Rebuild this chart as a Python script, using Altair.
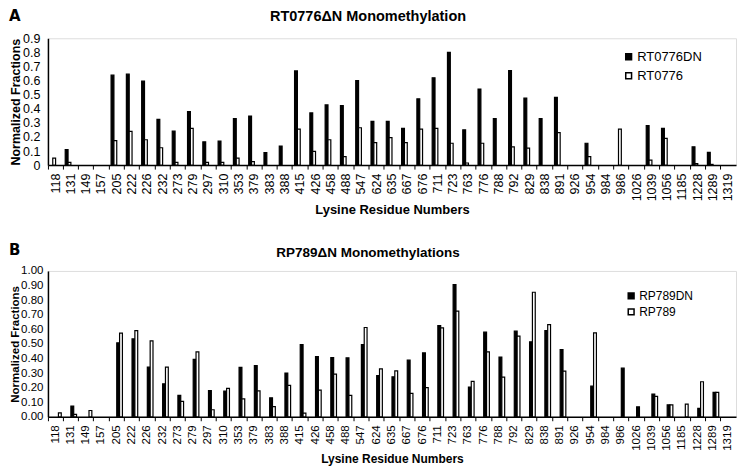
import altair as alt
import pandas as pd

residues = ["118", "131", "149", "157", "205", "222", "226", "232", "273", "279",
            "297", "310", "353", "379", "383", "388", "415", "426", "458", "488",
            "547", "624", "635", "667", "676", "711", "723", "763", "776", "788",
            "792", "829", "838", "891", "926", "954", "984", "986", "1026", "1039",
            "1056", "1185", "1228", "1289", "1319"]

a_series = ["RT0776DN", "RT0776"]
a_dn = [0, 0.11, 0, 0, 0.638, 0.645, 0.596, 0.325, 0.241, 0.38,
        0.165, 0.17, 0.33, 0.348, 0.088, 0.135, 0.668, 0.37, 0.427, 0.422,
        0.60, 0.31, 0.31, 0.26, 0.47, 0.62, 0.80, 0.25, 0.54, 0.33,
        0.67, 0.475, 0.33, 0.48, 0, 0.155, 0, 0, 0, 0.28,
        0.26, 0, 0.13, 0.09, 0]
a_wt = [0.049, 0.02, 0, 0, 0.174, 0.239, 0.18, 0.123, 0.02, 0.26,
        0.02, 0.02, 0.05, 0.025, 0, 0, 0.255, 0.097, 0.18, 0.06,
        0.265, 0.16, 0.195, 0.16, 0.255, 0.26, 0.155, 0.015, 0.155, 0,
        0.13, 0.12, 0, 0.23, 0, 0.06, 0, 0.255, 0, 0.035,
        0.19, 0, 0.01, 0.005, 0]

b_series = ["RP789DN", "RP789"]
b_dn = [0, 0.073, 0, 0, 0.507, 0.534, 0.34, 0.226, 0.146, 0.393,
        0.18, 0.176, 0.338, 0.35, 0.13, 0.30, 0.495, 0.413, 0.406, 0.404,
        0.495, 0.283, 0.274, 0.388, 0.438, 0.626, 0.906, 0.203, 0.58, 0.409,
        0.587, 0.514, 0.591, 0.461, 0, 0.21, 0, 0.333, 0.068, 0.155,
        0.082, 0, 0.057, 0.167, 0]
b_wt = [0.027, 0.016, 0.043, 0, 0.573, 0.591, 0.52, 0.34, 0.105, 0.445,
        0.048, 0.194, 0.123, 0.178, 0.07, 0.215, 0.025, 0.183, 0.292, 0.146,
        0.612, 0.329, 0.315, 0.16, 0.20, 0.61, 0.724, 0.242, 0.445, 0.272,
        0.553, 0.854, 0.632, 0.313, 0, 0.575, 0, 0, 0, 0.14,
        0.082, 0.087, 0.24, 0.167, 0]

a_ticks = [0, 0.1, 0.2, 0.3, 0.4, 0.5, 0.6, 0.7, 0.8, 0.9]
b_ticks = [0, 0.1, 0.2, 0.3, 0.4, 0.5, 0.6, 0.7, 0.8, 0.9, 1.0]

FONT = "Liberation Sans"
W = 689


def panel(letter, title, series, dn, wt, ymax, ticks, label_expr, height,
          lab_size, ytitle_size, lab_pad, xtitle_size, title_size,
          letter_y, title_y, leg_x, leg_y, leg_size, leg_row):
    n = len(residues)
    df = pd.DataFrame({
        "residue": residues * 2,
        "series": [series[0]] * n + [series[1]] * n,
        "value": dn + wt,
    })
    bars = alt.Chart(df).transform_filter("datum.value > 0").mark_bar(
        stroke="black", strokeWidth=1.2
    ).encode(
        x=alt.X("residue:N", sort=residues,
                scale=alt.Scale(domain=residues, paddingInner=0, paddingOuter=0),
                axis=alt.Axis(title="Lysine Residue Numbers", labelAngle=-90,
                              bandPosition=0, tickSize=4, tickColor="black",
                              domainColor="black", domainWidth=1.5,
                              labelFontSize=lab_size, labelColor="black",
                              labelPadding=4, titleFontSize=xtitle_size,
                              titleFontWeight="bold", titleColor="black",
                              titlePadding=3, labelFont=FONT, titleFont=FONT)),
        xOffset=alt.XOffset("series:N", sort=series,
                            scale=alt.Scale(domain=series, paddingInner=0,
                                            paddingOuter=0.7)),
        y=alt.Y("value:Q", scale=alt.Scale(domain=[0, ymax], nice=False),
                axis=alt.Axis(title="Normalized Fractions", values=ticks,
                              labelExpr=label_expr, ticks=False, grid=False,
                              domainColor="black", domainWidth=1.5,
                              labelFontSize=lab_size, labelColor="black",
                              labelPadding=lab_pad, titleFontSize=ytitle_size,
                              titleFontWeight="bold", titleColor="black",
                              titlePadding=0, labelFont=FONT, titleFont=FONT)),
        color=alt.Color("series:N", sort=series,
                        scale=alt.Scale(domain=series, range=["black", "white"]),
                        legend=alt.Legend(title=None, orient="none",
                                          legendX=leg_x, legendY=leg_y,
                                          symbolType="square", symbolSize=34,
                                          symbolStrokeColor="black",
                                          symbolStrokeWidth=1.5,
                                          labelFontSize=leg_size,
                                          labelColor="black", labelFont=FONT,
                                          labelOffset=2, rowPadding=leg_row,
                                          padding=0)),
    )
    letter_t = alt.Chart(pd.DataFrame({"t": [letter]})).mark_text(
        font="DejaVu Sans", fontSize=15, fontWeight="bold", align="left",
        baseline="alphabetic", color="black"
    ).encode(x=alt.value(-39), y=alt.value(letter_y), text="t:N")
    title_t = alt.Chart(pd.DataFrame({"t": [title]})).mark_text(
        font=FONT, fontSize=title_size, fontWeight="bold", align="center",
        baseline="alphabetic", color="black"
    ).encode(x=alt.value(W / 2 - 24), y=alt.value(title_y), text="t:N")
    return alt.layer(bars, letter_t, title_t).properties(width=W, height=height)


chart_a = panel("A", "RT0776\u0394N Monomethylation", a_series, a_dn, a_wt, 0.9,
                a_ticks, "datum.value == 0 ? '0' : format(datum.value, '.1f')",
                127, 12.5, 12.5, 8, 13, 14.5, -17, -17, 575, 12, 13, 5)
chart_b = panel("B", "RP789\u0394N Monomethylations", b_series, b_dn, b_wt, 1.0,
                b_ticks, "format(datum.value, '.2f')",
                146, 11.5, 11.5, 5, 12, 13.5, -16, -14, 578, 19, 12, 4)

chart = alt.vconcat(chart_a, chart_b, spacing=24).resolve_scale(
    color="independent", x="independent", y="independent"
).properties(padding=0).configure_view(
    stroke="black", strokeWidth=1.5).configure(font=FONT)

chart.save("out.html", embed_options={"renderer": "svg", "actions": False})
